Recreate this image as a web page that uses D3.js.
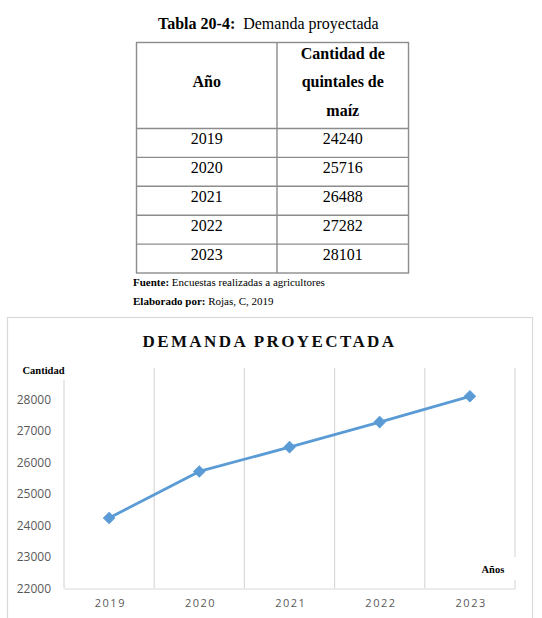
<!DOCTYPE html>
<html>
<head>
<meta charset="utf-8">
<script src="https://cdn.jsdelivr.net/npm/d3@7"></script>
<style>
  html, body { margin: 0; padding: 0; background: #fff; }
  svg { display: block; }
</style>
</head>
<body>
<svg id="page" width="542" height="618"></svg>
<script>
// ---- Data ----
const years = ["2019", "2020", "2021", "2022", "2023"];
const demand = [24240, 25716, 26488, 27282, 28101];
const yTicks = [22000, 23000, 24000, 25000, 26000, 27000, 28000];
const tableTitleBold = "Tabla 20-4:";
const tableTitleRest = "Demanda proyectada";
const headerCol1 = "Año";
const headerCol2 = ["Cantidad de", "quintales de", "maíz"];
const chartTitle = "DEMANDA PROYECTADA";
const yAxisLabel = "Cantidad";
const xAxisLabel = "Años";

const svg = d3.select("#page");
const serif = "'Liberation Serif', 'Times New Roman', serif";
const sans = "'Open Sans', 'Liberation Sans', sans-serif";

svg.append("rect").attr("width", 542).attr("height", 618).attr("fill", "#fff");

// ---- Table title ----
const tt = svg.append("text")
  .attr("x", 158).attr("y", 28.5)
  .attr("font-family", serif).attr("font-size", 16).attr("fill", "#000");
tt.append("tspan").attr("font-weight", "bold").text(tableTitleBold);
tt.append("tspan").attr("dx", 8).text(tableTitleRest);

// ---- Table ----
const tLeft = 136.5, tMid = 277, tRight = 408.5, tTop = 42.5, tHeadBottom = 128.5, tBottom = 273;
const rowScale = d3.scaleBand().domain(years).range([tHeadBottom, tBottom]);
const tg = svg.append("g").attr("stroke", "#8c8c8c").attr("stroke-width", 1.4).attr("fill", "none");
tg.append("rect").attr("x", tLeft).attr("y", tTop).attr("width", tRight - tLeft).attr("height", tBottom - tTop);
tg.append("line").attr("x1", tMid).attr("x2", tMid).attr("y1", tTop).attr("y2", tBottom);
tg.append("line").attr("x1", tLeft).attr("x2", tRight).attr("y1", tHeadBottom).attr("y2", tHeadBottom);
tg.selectAll("line.row").data(years.slice(1)).join("line").attr("class", "row")
  .attr("x1", tLeft).attr("x2", tRight)
  .attr("y1", d => rowScale(d)).attr("y2", d => rowScale(d));

const c1 = (tLeft + tMid) / 2, c2 = (tMid + tRight) / 2;
svg.append("text").attr("x", c1).attr("y", 86.5).attr("text-anchor", "middle")
  .attr("font-family", serif).attr("font-size", 16).attr("font-weight", "bold").text(headerCol1);
svg.selectAll("text.h2").data(headerCol2).join("text").attr("class", "h2")
  .attr("x", c2).attr("y", (d, i) => 58.5 + i * 28.5).attr("text-anchor", "middle")
  .attr("font-family", serif).attr("font-size", 16).attr("font-weight", "bold").text(d => d);

const rows = svg.selectAll("g.trow").data(years.map((y, i) => ({ y, v: demand[i] }))).join("g").attr("class", "trow");
rows.append("text").attr("x", c1).attr("y", d => rowScale(d.y) + 15.5).attr("text-anchor", "middle")
  .attr("font-family", serif).attr("font-size", 16).text(d => d.y);
rows.append("text").attr("x", c2).attr("y", d => rowScale(d.y) + 15.5).attr("text-anchor", "middle")
  .attr("font-family", serif).attr("font-size", 16).text(d => d.v);

// ---- Source notes ----
const f1 = svg.append("text").attr("x", 133).attr("y", 285.5).attr("font-family", serif).attr("font-size", 11);
f1.append("tspan").attr("font-weight", "bold").text("Fuente:");
f1.append("tspan").text(" Encuestas realizadas a agricultores");
const f2 = svg.append("text").attr("x", 133).attr("y", 305).attr("font-family", serif).attr("font-size", 11);
f2.append("tspan").attr("font-weight", "bold").text("Elaborado por:");
f2.append("tspan").text(" Rojas, C, 2019");

// ---- Chart frame ----
svg.append("rect").attr("x", 7.5).attr("y", 317.5).attr("width", 525).attr("height", 320)
  .attr("fill", "none").attr("stroke", "#d9d9d9").attr("stroke-width", 1.2);

svg.append("text").attr("x", 142.5).attr("y", 346.5)
  .attr("font-family", serif).attr("font-size", 17).attr("font-weight", "bold")
  .attr("letter-spacing", 2.4).attr("fill", "#0d0d0d").text(chartTitle);

// ---- Scales ----
const pL = 64, pR = 515, pTop = 368, pBottom = 588.5;
const x = d3.scalePoint().domain(years).range([pL, pR]).padding(0.5);
const y = d3.scaleLinear().domain([22000, 29000]).range([pBottom, pTop]);
const step = x.step();

// vertical gridlines at category boundaries
const bounds = d3.range(years.length + 1).map(i => pL + i * step);
svg.append("g").selectAll("line").data(bounds).join("line")
  .attr("x1", d => d).attr("x2", d => d).attr("y1", y(29000)).attr("y2", pBottom)
  .attr("stroke", "#d9d9d9").attr("stroke-width", 1.2);

// y axis labels
const yAxis = d3.axisLeft(y).tickValues(yTicks).tickSize(0).tickPadding(13).tickFormat(d3.format("d"));
const yg = svg.append("g").attr("transform", `translate(${pL},0)`).call(yAxis);
yg.select(".domain").remove();
yg.selectAll("text").attr("font-family", sans).attr("font-size", 12).attr("fill", "#595959");

// x axis
const xAxis = d3.axisBottom(x).tickSize(0).tickPadding(11);
const xg = svg.append("g").attr("transform", `translate(0,${pBottom})`).call(xAxis);
xg.select(".domain").attr("stroke", "#d9d9d9").attr("stroke-width", 1.2);
xg.selectAll("text").attr("font-family", sans).attr("font-size", 11).attr("fill", "#595959")
  .attr("letter-spacing", 1.5).attr("dx", 0.75);

// ---- Axis title boxes ----
svg.append("rect").attr("x", 18).attr("y", 361).attr("width", 50).attr("height", 19).attr("fill", "#fff");
svg.append("text").attr("x", 22.5).attr("y", 373.5).attr("font-family", serif).attr("font-size", 10.5)
  .attr("font-weight", "bold").text(yAxisLabel);
svg.append("rect").attr("x", 476).attr("y", 557).attr("width", 42).attr("height", 23).attr("fill", "#fff");
svg.append("text").attr("x", 481.5).attr("y", 572.5).attr("font-family", serif).attr("font-size", 10.5)
  .attr("font-weight", "bold").text(xAxisLabel);

// ---- Line & markers ----
const pts = years.map((yr, i) => ({ yr, v: demand[i] }));
svg.append("path").datum(pts)
  .attr("fill", "none").attr("stroke", "#5b9bd5").attr("stroke-width", 2.8).attr("stroke-linejoin", "round")
  .attr("d", d3.line().x(d => x(d.yr)).y(d => y(d.v)));
svg.append("g").selectAll("path").data(pts).join("path")
  .attr("d", d3.symbol(d3.symbolSquare, 62)())
  .attr("transform", d => `translate(${x(d.yr)},${y(d.v)}) rotate(45)`)
  .attr("fill", "#5b9bd5").attr("stroke", "#5b9bd5").attr("stroke-width", 1);
</script>
</body>
</html>
